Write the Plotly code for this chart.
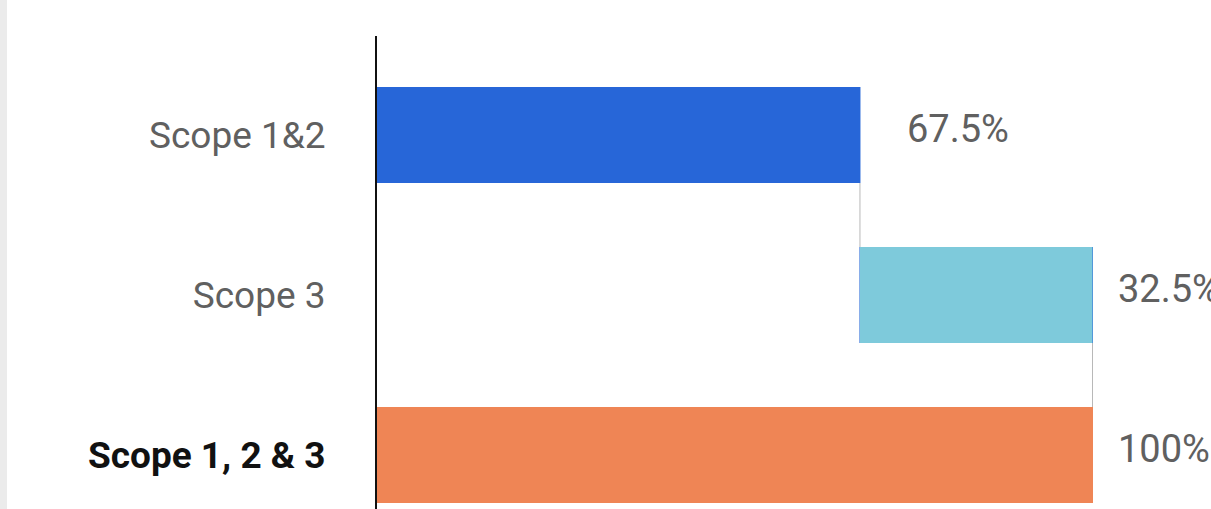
import plotly.graph_objects as go

categories = ["Scope 1&2", "Scope 3", "Scope 1, 2 & 3"]
values = [67.5, 32.5, 100.0]
measures = ["relative", "relative", "total"]
labels = ["67.5%", "32.5%", "100%"]

W, H = 1211, 509
L, T = 377, 36
plot_w = W - L
px_per_unit = 7.155
x_max = plot_w / px_per_unit

blue = "#2766d8"
light = "#7ecadb"
orange = "#ef8555"

ticktext = [
    "Scope 1&2",
    "Scope 3",
    "<b><span style='color:#111111'>Scope 1, 2 &amp; 3</span></b>",
]

fig = go.Figure()
fig.add_trace(go.Waterfall(
    orientation="h",
    y=categories,
    x=[values[0], values[1], 0],
    measure=measures,
    increasing=dict(marker=dict(color=blue)),
    totals=dict(marker=dict(color=orange)),
    connector=dict(line=dict(color="#b8b8b8", width=1)),
    width=0.6,
    hoverinfo="skip",
))

# scope 3 bar drawn in its own colour on top of the waterfall step
bases = [0, values[0], 0]
fig.add_trace(go.Bar(
    orientation="h",
    y=[categories[1]],
    x=[values[1]],
    base=[bases[1]],
    marker=dict(color=light, line=dict(width=0)),
    width=0.6,
    hoverinfo="skip",
))

ends = [values[0], values[0] + values[1], values[2]]
shifts = [45, 23, 23]
for c, e, t, s in zip(categories, ends, labels, shifts):
    fig.add_annotation(
        x=e, y=c, text=t, showarrow=False, xanchor="left", yanchor="middle",
        xshift=s, yshift=6, font=dict(size=38, color="#606060", family="Roboto"),
    )

# light grey strip at left edge
fig.add_shape(type="rect", xref="paper", yref="paper",
              x0=-L / plot_w, x1=-(L - 7) / plot_w, y0=-0.1, y1=1.2,
              fillcolor="#ebebeb", line=dict(width=0), layer="below")

center0 = 135
unit = 160
top_pos = -(center0 - T) / unit
bot_pos = (H - center0) / unit

fig.update_layout(
    width=W, height=H,
    margin=dict(l=L, r=0, t=T, b=0, pad=0),
    paper_bgcolor="white", plot_bgcolor="white",
    showlegend=False,
    barmode="overlay",
    font=dict(family="Roboto", size=37, color="#606060"),
    xaxis=dict(range=[0, x_max], visible=False, showgrid=False, zeroline=False),
    yaxis=dict(
        type="category",
        categoryorder="array", categoryarray=categories,
        tickvals=categories, ticktext=ticktext,
        range=[bot_pos, top_pos],
        showline=True, linecolor="#111111", linewidth=2,
        ticks="", showgrid=False, zeroline=False,
        ticklabelstandoff=42,
        tickfont=dict(size=37, color="#606060", family="Roboto"),
    ),
)

fig.write_html(
    "out.html",
    config={"displayModeBar": False},
    post_script="document.body.style.margin='0';document.body.style.overflow='hidden';",
)
